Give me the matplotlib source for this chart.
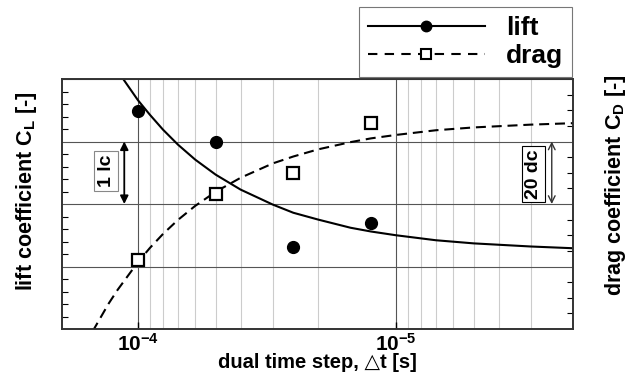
import matplotlib.pyplot as plt
from matplotlib.lines import Line2D
from matplotlib.ticker import MultipleLocator, NullFormatter, FixedLocator, LogLocator

# time steps of the four runs [s] and the resulting coefficients
dt_runs = [1e-4, 5e-5, 2.5e-5, 1.25e-5]
lift_runs = [3.49, 3.00, 1.31, 1.70]      # in lift counts (lc)
drag_runs = [22.1, 43.1, 49.8, 65.8]      # in drag counts (dc)

# convergence fits
dt_fit = [1.5e-4, 1.3e-4, 1.2e-4, 1e-4, 9e-5, 8e-5, 7e-5, 6e-5, 5e-5, 4e-5,
          3e-5, 2.5e-5, 2e-5, 1.5e-5, 1.25e-5, 1e-5, 7e-6, 5e-6, 3e-6, 2e-6]
lift_fit = [4.84, 4.37, 4.13, 3.66, 3.43, 3.19, 2.95, 2.71, 2.47, 2.23,
            1.99, 1.86, 1.75, 1.62, 1.56, 1.50, 1.42, 1.37, 1.32, 1.29]
drag_fit = [-0.8, 8.1, 12.5, 21.4, 25.9, 30.4, 34.9, 39.4, 43.9, 48.4,
            53.0, 55.2, 57.5, 59.8, 61.0, 62.1, 63.6, 64.5, 65.4, 65.9]

xtick_vals = [1e-4, 1e-5]
xtick_labels = [r'10$^{-4}$', r'10$^{-5}$']

plt.rcParams['font.family'] = ['Liberation Sans', 'DejaVu Sans']
plt.rcParams['font.weight'] = 'bold'
plt.rcParams['mathtext.fontset'] = 'custom'
plt.rcParams['mathtext.rm'] = 'Liberation Sans'
plt.rcParams['mathtext.default'] = 'regular'

fig = plt.figure(figsize=(6.35, 3.76), dpi=100)
ax = fig.add_axes([62/635, 1-329/376, 511/635, 250/376])
ax.set_xscale('log')
ax.set_xlim(1.97e-4, 2.06e-6)
ax.set_ylim(0, 4)
ax2 = ax.twinx()
ax2.set_ylim(0, 80)

# grid and ticks
ax.xaxis.set_major_locator(FixedLocator(xtick_vals))
ax.set_xticklabels(xtick_labels, fontsize=15, fontweight='bold')
ax.xaxis.set_minor_locator(LogLocator(base=10, subs=range(2, 10)))
ax.xaxis.set_minor_formatter(NullFormatter())
ax.yaxis.set_major_locator(MultipleLocator(1))
ax.yaxis.set_minor_locator(MultipleLocator(0.2))
ax.grid(which='major', color='#555555', lw=0.8)
ax.grid(which='minor', axis='x', color='#cccccc', lw=0.8)
ax.tick_params(which='both', direction='in', top=False, right=False,
               labelleft=False, pad=3)
ax.tick_params(axis='y', which='major', length=0)
ax.tick_params(axis='y', which='minor', length=4, width=0.8)
ax.tick_params(axis='x', which='major', length=5, width=1)
ax.tick_params(axis='x', which='minor', length=0)

ax2.yaxis.set_major_locator(MultipleLocator(20))
ax2.yaxis.set_minor_locator(MultipleLocator(5))
ax2.tick_params(which='both', direction='in', labelright=False)
ax2.tick_params(which='major', length=0)
ax2.tick_params(which='minor', length=4, width=0.8)

for a in (ax, ax2):
    for s in a.spines.values():
        s.set_color('#333333')
        s.set_linewidth(1.2)

dash = (0, (4.8, 2.8))
ax.plot(dt_fit, lift_fit, color='k', lw=1.5)
ax.plot(dt_runs, lift_runs, 'o', color='k', ms=8.5, zorder=4)
ax2.plot(dt_fit, drag_fit, color='k', lw=1.5, ls=dash)
ax2.plot(dt_runs, drag_runs, 's', color='k', mfc='w', mew=1.6, ms=8.5, zorder=4)

# scale bars
ax.annotate('', xy=(1.13e-4, 3), xytext=(1.13e-4, 2),
            arrowprops=dict(arrowstyle='<|-|>', color='k', lw=1.3,
                            mutation_scale=12, shrinkA=0, shrinkB=0))
ax.text(1.33e-4, 2.53, '1 lc', rotation=90, ha='center', va='center', fontsize=14,
        bbox=dict(boxstyle='square,pad=0.18', fc='w', ec='#888888', lw=0.8))
ax2.annotate('', xy=(2.49e-6, 60), xytext=(2.49e-6, 40),
             arrowprops=dict(arrowstyle='<->', color='#333333', lw=1,
                             mutation_scale=12, shrinkA=0, shrinkB=0))
ax2.text(2.94e-6, 49.6, '20 dc', rotation=90, ha='center', va='center', fontsize=14,
         bbox=dict(boxstyle='square,pad=0.15', fc='w', ec='k', lw=0.8))

# labels
fig.text(27/635, 1-191/376, r'lift coefficient C$_{L}$ [-]', rotation=90,
         ha='center', va='center', fontsize=15.5)
fig.text(616/635, 1-185/376, r'drag coefficient C$_{D}$ [-]', rotation=90,
         ha='center', va='center', fontsize=15.5)
fig.text(317/635, 1-363/376, 'dual time step, \u25b3t [s]', ha='center', va='center',
         fontsize=14.5)

h_lift = Line2D([], [], color='k', lw=1.5, marker='o', ms=7.5)
h_drag = Line2D([], [], color='k', lw=1.5, ls=(0, (4.5, 3.5)), marker='s', ms=7.5,
                mfc='w', mew=1.5)
leg = ax2.legend([h_lift, h_drag], ['lift', 'drag'], loc='upper right',
                 bbox_to_anchor=(572/635, 1-7/376), bbox_transform=fig.transFigure,
                 borderaxespad=0, fancybox=False, edgecolor='#777777', framealpha=1,
                 handlelength=4.4, handletextpad=0.8, labelspacing=0.15, borderpad=0.35,
                 prop={'size': 19, 'weight': 'bold'})
leg.get_frame().set_linewidth(0.8)

fig.savefig('out.png', dpi=100)
